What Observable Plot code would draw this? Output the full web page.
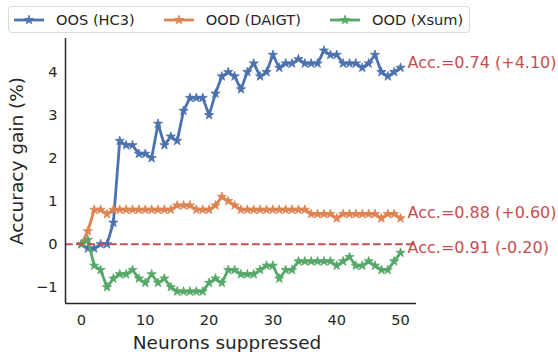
<!DOCTYPE html>
<html><head><meta charset="utf-8">
<script src="https://cdn.jsdelivr.net/npm/d3@7"></script>
<script src="https://cdn.jsdelivr.net/npm/@observablehq/plot@0.6"></script>
<style>
body{margin:0;background:#fff;font-family:"DejaVu Sans",sans-serif;}
#wrap{position:relative;width:558px;height:352px;overflow:hidden;}
#legend{position:absolute;left:8px;top:6px;height:25px;border:1px solid #d9d9d9;border-radius:4px;background:#fff;display:inline-flex;align-items:center;padding:0 6px 0 4px;font-size:14.6px;color:#262626;white-space:nowrap;}
.item{display:flex;align-items:center;margin-right:28px;}
.item:last-child{margin-right:0;}
.item svg{margin-right:11px;}
</style></head><body>
<div id="wrap"><div id="chart"></div><div id="legend"></div></div>
<script>
// ---- data ----
const neurons = [0,1,2,3,4,5,6,7,8,9,10,11,12,13,14,15,16,17,18,19,20,21,22,23,24,25,26,27,28,29,30,31,32,33,34,35,36,37,38,39,40,41,42,43,44,45,46,47,48,49,50];
const oosHC3 = [0,-0.1,-0.1,0,0,0.5,2.4,2.3,2.3,2.1,2.1,2.0,2.8,2.3,2.5,2.4,3.1,3.4,3.4,3.4,3.0,3.5,3.9,4.0,3.9,3.6,4.0,4.2,3.9,4.0,4.4,4.1,4.2,4.2,4.3,4.2,4.2,4.2,4.5,4.4,4.4,4.2,4.2,4.2,4.1,4.2,4.4,4.0,3.9,4.0,4.1];
const oodDAIGT = [0,0.3,0.8,0.8,0.7,0.8,0.8,0.8,0.8,0.8,0.8,0.8,0.8,0.8,0.8,0.9,0.9,0.9,0.8,0.8,0.8,0.9,1.1,1.0,0.9,0.8,0.8,0.8,0.8,0.8,0.8,0.8,0.8,0.8,0.8,0.8,0.7,0.7,0.7,0.7,0.6,0.7,0.7,0.7,0.7,0.7,0.7,0.6,0.7,0.7,0.6];
const oodXsum = [0,0.1,-0.5,-0.6,-1.0,-0.8,-0.7,-0.7,-0.6,-0.8,-0.9,-0.7,-0.9,-0.8,-1.0,-1.1,-1.1,-1.1,-1.1,-1.1,-0.9,-0.8,-0.9,-0.6,-0.6,-0.7,-0.7,-0.7,-0.6,-0.5,-0.5,-0.8,-0.6,-0.6,-0.4,-0.4,-0.4,-0.4,-0.4,-0.4,-0.5,-0.4,-0.3,-0.5,-0.5,-0.4,-0.5,-0.6,-0.6,-0.4,-0.2];
const seriesNames = ["OOS (HC3)", "OOD (DAIGT)", "OOD (Xsum)"];
const seriesColors = ["#4C72B0", "#DD8452", "#55A868"];
const finalAccuracy = [0.74, 0.88, 0.91];
const xTicks = [0,10,20,30,40,50];
const yTicks = [-1,0,1,2,3,4];
const xLabel = "Neurons suppressed";
const yLabel = "Accuracy gain (%)";
const annColor = "#C44E52";

// ---- build table ----
const allValues = [oosHC3, oodDAIGT, oodXsum];
const rows = [];
allValues.forEach((vals, i) => vals.forEach((v, j) => rows.push({series: seriesNames[i], n: neurons[j], v})));
const lastRows = allValues.map((vals, i) => {
  const v = vals[vals.length - 1];
  const sign = v >= 0 ? "+" : "-";
  return {series: seriesNames[i], n: neurons[neurons.length - 1], v,
    label: `Acc.=${finalAccuracy[i].toFixed(2)} (${sign}${Math.abs(v).toFixed(2)})`};
});

const xDom = [-2.5, 52.5];
const yDom = [-1.38, 4.78];
const ink = "#262626";

const chart = Plot.plot({
  width: 558, height: 352,
  marginLeft: 65, marginRight: 142, marginTop: 38, marginBottom: 49,
  style: {fontFamily: "DejaVu Sans, sans-serif", color: ink, background: "#fff"},
  x: {domain: xDom},
  y: {domain: yDom},
  color: {domain: seriesNames, range: seriesColors},
  marks: [
    Plot.axisX({ticks: xTicks, tickSize: 0, tickPadding: 11, fontSize: 14.6, label: null, tickFormat: d3.format("d")}),
    Plot.axisY({ticks: yTicks, tickSize: 0, tickPadding: 8, fontSize: 14.6, label: null, tickFormat: d3.format("d")}),
    Plot.text([xLabel], {frameAnchor: "bottom", textAnchor: "middle", lineAnchor: "middle", dx: -14, dy: 40, fontSize: 18.5, fill: ink}),
    Plot.text([yLabel], {frameAnchor: "left", textAnchor: "middle", lineAnchor: "middle", dx: -48, dy: -10, rotate: -90, fontSize: 18.5, fill: ink}),
    ...seriesNames.map((s) => [
      Plot.line(rows.filter(d => d.series === s), {x: "n", y: "v", stroke: "series", strokeWidth: 2.8}),
      Plot.dot(rows.filter(d => d.series === s), {x: "n", y: "v", fill: "series", symbol: "star", r: 2.9, stroke: "series", strokeWidth: 0.8})
    ]).flat(),
    Plot.ruleY([0], {stroke: annColor, strokeWidth: 2, strokeDasharray: "7.7,3.3"}),
    Plot.text(lastRows, {x: "n", y: "v", text: "label", textAnchor: "start", dx: 7, dy: -5, fill: annColor, fontSize: 16}),
    Plot.ruleX([xDom[0]], {stroke: ink, strokeWidth: 1.5}),
    Plot.ruleY([yDom[0]], {stroke: ink, strokeWidth: 1.5})
  ]
});
document.getElementById("chart").appendChild(chart);

// ---- legend ----
const legend = d3.select("#legend");
seriesNames.forEach((name, i) => {
  const item = legend.append("div").attr("class", "item");
  const svg = item.append("svg").attr("width", 32).attr("height", 14);
  svg.append("line").attr("x1", 1).attr("x2", 31).attr("y1", 7).attr("y2", 7)
    .attr("stroke", seriesColors[i]).attr("stroke-width", 2.8);
  svg.append("path").attr("d", d3.symbol(d3.symbolStar, Math.PI * 2.9 * 2.9)())
    .attr("transform", "translate(16,7)").attr("fill", seriesColors[i])
    .attr("stroke", seriesColors[i]).attr("stroke-width", 0.8);
  item.append("span").text(name);
});
</script>
</body></html>
